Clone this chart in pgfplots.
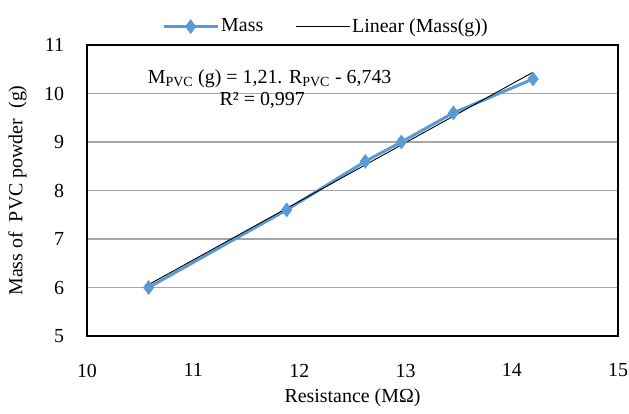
\documentclass[border=0pt]{standalone}
\usepackage{pgfplots}
\pgfplotsset{compat=1.18}
\usepackage{fontspec}
\setmainfont{Liberation Serif}
\definecolor{massblue}{HTML}{5B9BD5}
\definecolor{gridgray}{HTML}{A6A6A6}
\begin{document}
\fontsize{20}{23}\selectfont
\begin{tikzpicture}
\path[use as bounding box] (-87bp,-78bp) rectangle (542bp,336bp);
\begin{axis}[
    at={(0,0)}, anchor=south west,
    scale only axis,
    width=531bp, height=291bp,
    xmin=10, xmax=15, ymin=5, ymax=11,
    xtick={10,11,...,15}, ytick={5,6,...,11},
    major tick length=0pt,
    ymajorgrids,
    grid style={gridgray, line width=1.2bp},
    axis line style={black, line width=1.2bp},
    /pgf/number format/assume math mode=true,
    tick label style={font=\fontsize{20}{23}\selectfont},
    xticklabel style={yshift=-21bp},
    yticklabel style={xshift=-16bp},
    xlabel={Resistance (MΩ)},
    ylabel={Mass of~ PVC powder~ (g)},
    label style={font=\fontsize{20}{23}\selectfont},
    xlabel style={yshift=2bp},
    ylabel style={yshift=4bp},
    legend columns=2,
    legend style={draw=none, fill=none, at={(0.45,1.02)}, anchor=south,
        font=\fontsize{20}{23}\selectfont,
        /tikz/every even column/.append style={column sep=30bp}},
    legend image code/.code={
        \draw[#1] (0bp,0bp) -- (27bp,0bp) -- (54bp,0bp);
        \draw[#1, mark repeat=2, mark phase=2] plot coordinates {(0bp,0bp) (27bp,0bp) (54bp,0bp)};
    },
]
\addplot[color=massblue, line width=3bp, mark=diamond*, mark size=7bp,
    mark options={fill=massblue, line width=0.5bp}] coordinates {
    (10.58,6.0) (11.88,7.6) (12.62,8.6) (12.96,9.0) (13.45,9.6) (14.2,10.3)
};
\addlegendentry{Mass}
\addplot[black, line width=0.9bp] coordinates {
    (10.58,6.059) (14.2,10.439)
};
\addlegendentry{Linear (Mass(g))}
\node[anchor=center] at (axis cs:11.72,10.3) {M\textsubscript{PVC} (g) = 1,21. R\textsubscript{PVC} - 6,743};
\node[anchor=center] at (axis cs:11.65,9.85) {R² = 0,997};
\end{axis}
\end{tikzpicture}
\end{document}
